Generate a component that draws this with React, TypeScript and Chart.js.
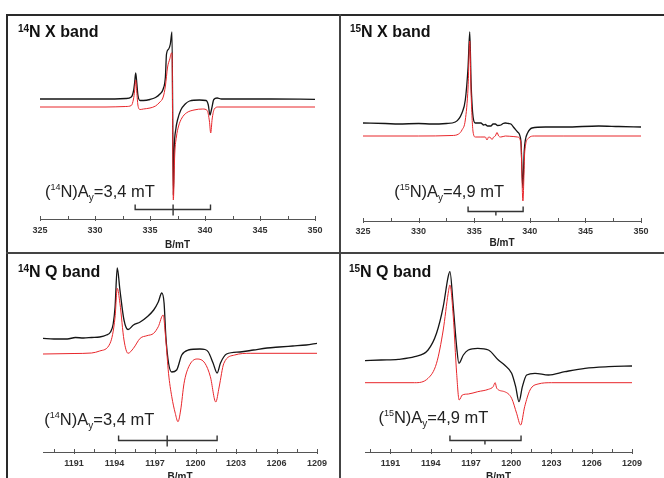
import React, { useEffect, useRef } from "react";
import { Chart, registerables } from "chart.js";
Chart.register(...registerables);

type P = [number, number];

// ---- Data: [B (mT), intensity (a.u.)] ----
// 14N X band
const x14Exp: P[] = [[325,120],[328,120],[331,120],[332.8,120.5],[333.3,122],[333.5,128],[333.6,136],[333.7,146],[333.8,136],[333.9,124],[334.1,118.5],[334.4,118.5],[335,119.5],[335.5,121.5],[335.9,125],[336.2,130],[336.4,142],[336.5,165],[336.7,170],[336.85,175],[337.0,187],[337.12,24],[337.2,70],[337.35,90],[337.5,99],[337.8,109],[338.2,115],[338.6,118],[339.5,119],[340.1,118.5],[340.3,114],[340.45,104],[340.6,110],[340.8,119.5],[341.1,121],[341.5,120],[343,120],[346,120],[350,119.7]];
const x14Sim: P[] = [[325,112],[328,112],[331,112],[332.8,112.5],[333.3,113.5],[333.5,120],[333.6,128],[333.7,139],[333.8,127],[333.9,114],[334.1,109.5],[334.4,110],[335,111],[335.5,113],[335.9,117],[336.2,122],[336.4,133],[336.6,152],[336.8,160],[336.95,166],[337.0,166],[337.12,19],[337.25,65],[337.4,82],[337.6,93],[337.9,101],[338.3,106],[339,109],[339.8,110],[340.2,108.5],[340.4,98],[340.52,86],[340.65,100],[340.85,110],[341.2,112],[342,112],[346,112],[350,112]];
// 15N X band
const x15Exp: P[] = [[325,98],[327,97.5],[328.2,97],[330,97.5],[331.2,97],[332.5,97.5],[333.3,99],[333.9,108],[334.2,121],[334.45,154],[334.6,189],[334.72,138],[334.9,104],[335.1,98],[335.6,98],[335.85,96],[336.0,96.5],[336.2,95],[336.5,95],[336.7,97],[336.9,97],[337.1,95.5],[337.4,96],[337.6,97.5],[337.8,98],[338.1,97.5],[338.3,97],[338.6,93],[338.9,89],[339.2,80],[339.37,33],[339.5,70],[339.6,81],[339.8,88],[340.2,93],[341.4,94],[343.2,94],[346.2,95],[348,94.5],[350,94]];
const x15Sim: P[] = [[325,85],[330,85],[333,85.5],[333.6,87],[333.9,91],[334.2,101],[334.45,134],[334.6,180],[334.72,128],[334.9,89],[335.1,84],[335.6,84],[336.0,84],[336.15,81],[336.3,84],[336.5,83],[336.6,81.5],[336.75,84],[336.9,85],[337.05,88.5],[337.2,85],[337.4,84],[337.8,85],[338.5,84.5],[338.9,84],[339.2,78],[339.38,20],[339.55,70],[339.9,83],[340.4,85],[343,85],[350,85]];
// 14N Q band
const q14Exp: P[] = [[1188.7,113.7],[1189.5,113],[1190.5,113],[1191.1,114.5],[1191.7,114],[1192.3,114.5],[1192.9,115],[1193.4,117],[1193.7,120],[1193.9,128],[1194.04,145],[1194.2,184],[1194.4,162],[1194.7,132],[1195.0,122.5],[1195.4,127],[1195.9,130],[1196.4,135],[1196.9,142],[1197.24,150],[1197.5,159],[1197.67,149],[1197.8,116],[1198.0,89],[1198.24,80],[1198.6,82],[1198.98,97],[1199.47,102],[1200.33,103],[1200.7,102.5],[1200.95,100],[1201.3,89],[1201.6,79],[1201.85,89],[1202.3,98],[1203.3,100],[1204.3,102],[1205.3,104],[1206.2,105],[1207.2,106],[1208.2,107],[1209,108.7]];
const q14Sim: P[] = [[1188.7,98],[1191,98.5],[1192.3,99],[1192.9,101],[1193.67,108.7],[1194.04,135],[1194.2,163.7],[1194.4,148.7],[1194.7,112],[1195.0,98.7],[1195.4,103.7],[1195.9,113.7],[1196.4,116.3],[1196.9,118.7],[1197.24,125.3],[1197.6,137],[1197.8,112],[1198.0,78.7],[1198.24,55.3],[1198.5,38.7],[1198.7,30.3],[1198.9,42],[1199.15,68.7],[1199.5,85.3],[1200.1,93],[1200.7,88.7],[1201.1,75.3],[1201.5,50],[1201.75,65],[1202.1,88.7],[1202.9,97],[1204.1,98.7],[1209,98.7]];
// 15N Q band
const q15Exp: P[] = [[1189.1,91.3],[1190.3,92],[1191.57,92.7],[1192.8,95.3],[1193.8,102],[1194.43,118.7],[1194.93,145.3],[1195.3,175.3],[1195.43,180.3],[1195.68,145.3],[1195.93,105.3],[1196.1,88.7],[1196.43,97],[1196.8,102],[1197.5,103.7],[1198.3,102],[1199.04,92],[1199.5,87],[1200.03,78.7],[1200.33,65.3],[1200.58,50.3],[1200.83,65.3],[1201.15,77],[1201.77,78.7],[1202.77,77],[1204.0,80.3],[1205.5,83.7],[1207.25,85.3],[1209,86]];
const q15Sim: P[] = [[1189.1,69.3],[1192.8,69.3],[1193.8,73.7],[1194.43,88.7],[1194.93,122],[1195.3,158.7],[1195.43,167],[1195.68,135.3],[1195.93,78.7],[1196.12,52],[1196.35,57],[1196.8,58],[1197.5,60.3],[1198.3,62.7],[1198.65,65.3],[1198.8,69.3],[1198.92,63.7],[1199.5,60.3],[1200.03,53.7],[1200.4,38.7],[1200.7,27],[1201.0,45.3],[1201.4,62],[1202.0,68],[1203,69.3],[1209,69.3]];

// hyperfine brackets: [left, centre, right] in mT
const bracket14X = [333.65, 337.1, 340.5];
const bracket15X = [334.45, 336.95, 339.4];
const bracket14Q = [1194.3, 1197.9, 1201.6];
const bracket15Q = [1195.43, 1198.04, 1200.73];

// axis ranges
const xBandRange = [325, 350];
const q14Range = [1188.7, 1209];
const q15Range = [1189.1, 1209];

const FONT = "'Liberation Sans', Arial, sans-serif";

type Part = { t: string; size: number; dy: number; bold?: boolean };

function drawRich(ctx: CanvasRenderingContext2D, x: number, y: number, parts: Part[]) {
  let cx = x;
  for (const p of parts) {
    ctx.font = `${p.bold ? "bold " : ""}${p.size}px ${FONT}`;
    ctx.fillText(p.t, cx, y + p.dy);
    cx += ctx.measureText(p.t).width;
  }
}

interface PanelCfg {
  left: number; top: number; width: number; height: number;
  padL: number; padR: number; axisRel: number; tickPad: number; titlePadB: number;
  range: number[]; step: number; labelEvery: number;
  exp: P[]; sim: P[];
  bracket: number[]; bracketLevel: number; centerUp: number; centerDown: number;
  iso: string; band: string; titleX: number; titleY: number;
  annIso: string; annVal: string; annX: number; annY: number;
}

const panels: PanelCfg[] = [
  { left: 8, top: 16, width: 331, height: 236, padL: 32, padR: 24, axisRel: 203, tickPad: 6, titlePadB: 1,
    range: xBandRange, step: 2.5, labelEvery: 5, exp: x14Exp, sim: x14Sim,
    bracket: bracket14X, bracketLevel: 10, centerUp: 5, centerDown: 6,
    iso: "14", band: "N X band", titleX: 10, titleY: 21, annIso: "14", annVal: "=3,4 mT", annX: 325.45, annY: 22 },
  { left: 341, top: 16, width: 323, height: 236, padL: 22, padR: 23, axisRel: 205, tickPad: 5, titlePadB: 3,
    range: xBandRange, step: 2.5, labelEvery: 5, exp: x15Exp, sim: x15Sim,
    bracket: bracket15X, bracketLevel: 10, centerUp: 0, centerDown: 4,
    iso: "15", band: "N X band", titleX: 9, titleY: 21, annIso: "15", annVal: "=4,9 mT", annX: 327.8, annY: 24 },
  { left: 8, top: 254, width: 331, height: 230, padL: 35, padR: 22, axisRel: 198, tickPad: 6, titlePadB: 1,
    range: q14Range, step: 1.5, labelEvery: 3, exp: q14Exp, sim: q14Sim,
    bracket: bracket14Q, bracketLevel: 12, centerUp: 5, centerDown: 6,
    iso: "14", band: "N Q band", titleX: 10, titleY: 23, annIso: "14", annVal: "=3,4 mT", annX: 1188.8, annY: 27 },
  { left: 341, top: 254, width: 323, height: 230, padL: 24, padR: 32, axisRel: 198, tickPad: 6, titlePadB: 1,
    range: q15Range, step: 1.5, labelEvery: 3, exp: q15Exp, sim: q15Sim,
    bracket: bracket15Q, bracketLevel: 12, centerUp: 0, centerDown: 4,
    iso: "15", band: "N Q band", titleX: 8, titleY: 23, annIso: "15", annVal: "=4,9 mT", annX: 1190.1, annY: 29 },
];

function Panel({ cfg }: { cfg: PanelCfg }) {
  const ref = useRef<HTMLCanvasElement>(null);
  useEffect(() => {
    if (!ref.current) return;
    const isMajor = (v: number) => Math.abs(v / cfg.labelEvery - Math.round(v / cfg.labelEvery)) < 1e-6;
    const overlay = {
      id: "overlay",
      afterDraw(chart: any) {
        const ctx: CanvasRenderingContext2D = chart.ctx;
        const xs = chart.scales.x;
        const ys = chart.scales.y;
        const yAxis = chart.chartArea.bottom;
        ctx.save();
        // inward tick marks
        ctx.strokeStyle = "#555";
        ctx.lineWidth = 1;
        xs.ticks.forEach((t: any) => {
          const px = Math.round(xs.getPixelForValue(t.value)) + 0.5;
          const major = isMajor(t.value);
          ctx.beginPath();
          ctx.moveTo(px, yAxis - 3);
          ctx.lineTo(px, yAxis + (major ? 2 : 0));
          ctx.stroke();
        });
        // bracket
        const [l, c, r] = cfg.bracket;
        const by = Math.round(ys.getPixelForValue(cfg.bracketLevel)) + 0.5;
        const pl = xs.getPixelForValue(l), pc = xs.getPixelForValue(c), pr = xs.getPixelForValue(r);
        ctx.strokeStyle = "#333";
        ctx.lineWidth = 1.4;
        ctx.beginPath();
        ctx.moveTo(pl, by - 5); ctx.lineTo(pl, by); ctx.lineTo(pr, by); ctx.lineTo(pr, by - 5);
        ctx.moveTo(pc, by - cfg.centerUp); ctx.lineTo(pc, by + cfg.centerDown);
        ctx.stroke();
        // title
        ctx.fillStyle = "#111";
        ctx.textBaseline = "alphabetic";
        ctx.textAlign = "left";
        drawRich(ctx, cfg.titleX, cfg.titleY, [
          { t: cfg.iso, size: 10, dy: -5, bold: true },
          { t: cfg.band, size: 16, dy: 0, bold: true },
        ]);
        // annotation
        ctx.fillStyle = "#222";
        const ax = xs.getPixelForValue(cfg.annX);
        const ay = ys.getPixelForValue(cfg.annY);
        drawRich(ctx, ax, ay, [
          { t: "(", size: 16.5, dy: 0 },
          { t: cfg.annIso, size: 9, dy: -7 },
          { t: "N)A", size: 16.5, dy: 0 },
          { t: "y", size: 10, dy: 4 },
          { t: cfg.annVal, size: 16.5, dy: 0 },
        ]);
        ctx.restore();
      },
    };
    const chart = new Chart(ref.current, {
      type: "line",
      data: {
        datasets: [
          { data: cfg.sim.map(([x, y]) => ({ x, y })), borderColor: "#e8262b", borderWidth: 1, pointRadius: 0, cubicInterpolationMode: "monotone" },
          { data: cfg.exp.map(([x, y]) => ({ x, y })), borderColor: "#151515", borderWidth: 1.3, pointRadius: 0, cubicInterpolationMode: "monotone" },
        ],
      } as any,
      options: {
        responsive: false,
        animation: false,
        layout: { padding: { left: cfg.padL, right: cfg.padR, top: 0, bottom: 0 } },
        plugins: { legend: { display: false }, tooltip: { enabled: false } },
        scales: {
          x: {
            type: "linear",
            min: cfg.range[0],
            max: cfg.range[1],
            grid: { display: true, drawOnChartArea: false, drawTicks: false },
            border: { display: true, color: "#555", width: 1 },
            ticks: {
              stepSize: cfg.step,
              includeBounds: false,
              autoSkip: false,
              maxRotation: 0,
              padding: cfg.tickPad,
              color: "#333",
              font: { family: FONT, size: 9, weight: "bold" },
              callback: (v: any) => (isMajor(Number(v)) ? String(v) : ""),
            },
            title: {
              display: true,
              text: "B/mT",
              color: "#222",
              font: { family: FONT, size: 10, weight: "bold" },
              padding: { top: 0, bottom: cfg.titlePadB },
            },
            afterFit: (s: any) => { s.height = cfg.height - cfg.axisRel; },
          },
          y: { display: false, min: 0, max: cfg.axisRel },
        },
      } as any,
      plugins: [overlay],
    });
    return () => chart.destroy();
  }, [cfg]);
  return (
    <canvas
      ref={ref}
      width={cfg.width}
      height={cfg.height}
      style={{ position: "absolute", left: cfg.left, top: cfg.top, width: cfg.width, height: cfg.height }}
    />
  );
}

export default function App() {
  const line = (s: React.CSSProperties) => <div style={{ position: "absolute", background: "#2a2a2a", ...s }} />;
  return (
    <div style={{ position: "fixed", left: 0, top: 0, width: 664, height: 478, overflow: "hidden", background: "#fff" }}>
      {panels.map((p, i) => <Panel key={i} cfg={p} />)}
      {line({ left: 6, top: 14, width: 2, height: 470 })}
      {line({ left: 6, top: 14, width: 660, height: 2 })}
      {line({ left: 339, top: 14, width: 2, height: 470, background: "#444" })}
      {line({ left: 6, top: 252, width: 660, height: 2, background: "#444" })}
    </div>
  );
}
